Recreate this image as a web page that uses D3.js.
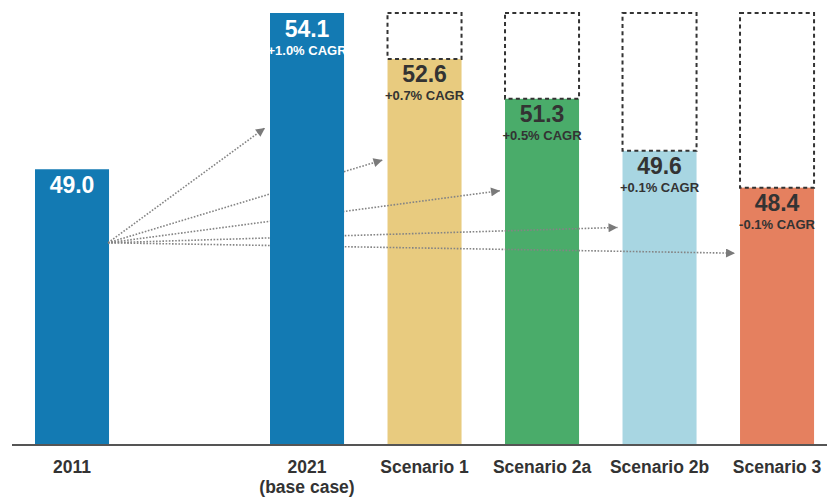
<!DOCTYPE html>
<html>
<head>
<meta charset="utf-8">
<script src="https://cdn.jsdelivr.net/npm/d3@7/dist/d3.min.js"></script>
<style>
  html, body { margin: 0; padding: 0; background: #ffffff; }
  svg { display: block; font-family: "Liberation Sans", Arial, sans-serif; }
</style>
</head>
<body>
<svg id="chart" width="827" height="499"></svg>
<script>
// ---- data ----
const categories = ["2011", "2021", "Scenario 1", "Scenario 2a", "Scenario 2b", "Scenario 3"];
const values = [49.0, 54.1, 52.6, 51.3, 49.6, 48.4];
const cagrLabels = ["", "+1.0% CAGR", "+0.7% CAGR", "+0.5% CAGR", "+0.1% CAGR", "-0.1% CAGR"];
const subLabels = ["", "(base case)", "", "", "", ""];
const baseCaseValue = 54.1;
const arrowFromValue = 46.6;
const arrowTargetValues = [null, 50.35, 49.3, 48.3, 47.1, 46.26];
const palette = ["#137ab3", "#137ab3", "#e8cb7f", "#4aac6a", "#a8d6e2", "#e5805f"];

// ---- layout ----
const svg = d3.select("#chart");
const baseY = 445;
const slots = ["2011", "__gap__", "2021", "Scenario 1", "Scenario 2a", "Scenario 2b", "Scenario 3"];

const x = d3.scaleBand().domain(slots).range([23.25, 825.8]).paddingInner(0.37).paddingOuter(0.1);
const y = d3.scaleLinear().domain([40, 54.1]).range([baseY, 13]);
const color = d3.scaleOrdinal().domain(categories).range(palette);

const data = categories.map((c, i) => ({
  cat: c, value: values[i], cagr: cagrLabels[i], sub: subLabels[i], target: arrowTargetValues[i], i
}));

// defs: arrow marker
svg.append("defs").append("marker")
  .attr("id", "arrow")
  .attr("viewBox", "0 0 10 10")
  .attr("refX", 10).attr("refY", 5)
  .attr("markerWidth", 10).attr("markerHeight", 9)
  .attr("markerUnits", "userSpaceOnUse")
  .attr("orient", "auto")
  .append("path").attr("d", "M0,0 L10,5 L0,10 Z").attr("fill", "#7a7a7a");

// bars other than base case
const lower = data.filter(d => d.cat !== "2021");
svg.append("g").selectAll("rect").data(lower).join("rect")
  .attr("x", d => x(d.cat))
  .attr("y", d => y(d.value))
  .attr("width", x.bandwidth())
  .attr("height", d => y(40) - y(d.value))
  .attr("fill", d => color(d.cat));

// dashed boxes for scenarios (gap to base case)
const scen = data.filter(d => d.cat.startsWith("Scenario"));
svg.append("g").selectAll("rect").data(scen).join("rect")
  .attr("x", d => x(d.cat))
  .attr("y", y(baseCaseValue))
  .attr("width", x.bandwidth())
  .attr("height", d => y(d.value) - y(baseCaseValue))
  .attr("fill", "none")
  .attr("stroke", "#333333")
  .attr("stroke-width", 2)
  .attr("stroke-dasharray", "4,3.3");

// arrows
const arrows = data.filter(d => d.target !== null);
const x0 = x("2011") + x.bandwidth() - 1;
svg.append("g").selectAll("line").data(arrows).join("line")
  .attr("x1", x0)
  .attr("y1", y(arrowFromValue))
  .attr("x2", d => x(d.cat) - 5)
  .attr("y2", d => y(d.target))
  .attr("stroke", "#848484")
  .attr("stroke-width", 1.6)
  .attr("stroke-dasharray", "1.6,1.6")
  .attr("marker-end", "url(#arrow)");

// base case bar on top
const base = data.filter(d => d.cat === "2021");
svg.append("g").selectAll("rect").data(base).join("rect")
  .attr("x", d => x(d.cat))
  .attr("y", d => y(d.value))
  .attr("width", x.bandwidth())
  .attr("height", d => y(40) - y(d.value))
  .attr("fill", d => color(d.cat));

// value labels
const textColor = d => (d.cat === "2011" || d.cat === "2021") ? "#ffffff" : "#333333";
const lbl = svg.append("g").attr("text-anchor", "middle").attr("font-weight", "bold");
lbl.selectAll("text.val").data(data).join("text")
  .attr("class", "val")
  .attr("x", d => x(d.cat) + x.bandwidth() / 2)
  .attr("y", d => y(d.value) + 23.5)
  .attr("font-size", 23)
  .attr("fill", textColor)
  .text(d => d.value.toFixed(1));
lbl.selectAll("text.cagr").data(data.filter(d => d.cagr)).join("text")
  .attr("class", "cagr")
  .attr("x", d => x(d.cat) + x.bandwidth() / 2)
  .attr("y", d => y(d.value) + 41.5)
  .attr("font-size", 13)
  .attr("fill", textColor)
  .text(d => d.cagr);

// axis
const xAxis = d3.axisBottom(x).tickValues(categories).tickSize(0).tickPadding(0);
const ax = svg.append("g").attr("transform", `translate(0,${baseY})`).call(xAxis);
ax.select(".domain").remove();
ax.selectAll(".tick text")
  .attr("y", 28).attr("dy", 0)
  .attr("font-family", "'Liberation Sans', Arial, sans-serif")
  .attr("font-size", 17.5)
  .attr("font-weight", "bold")
  .attr("fill", "#333333")
  .each(function (d) {
    const i = categories.indexOf(d);
    if (subLabels[i]) {
      d3.select(this).append("tspan").attr("x", 0).attr("dy", 19.5).text(subLabels[i]);
    }
  });
svg.append("line")
  .attr("x1", 12).attr("x2", 827)
  .attr("y1", baseY).attr("y2", baseY)
  .attr("stroke", "#555555").attr("stroke-width", 2);
</script>
</body>
</html>
